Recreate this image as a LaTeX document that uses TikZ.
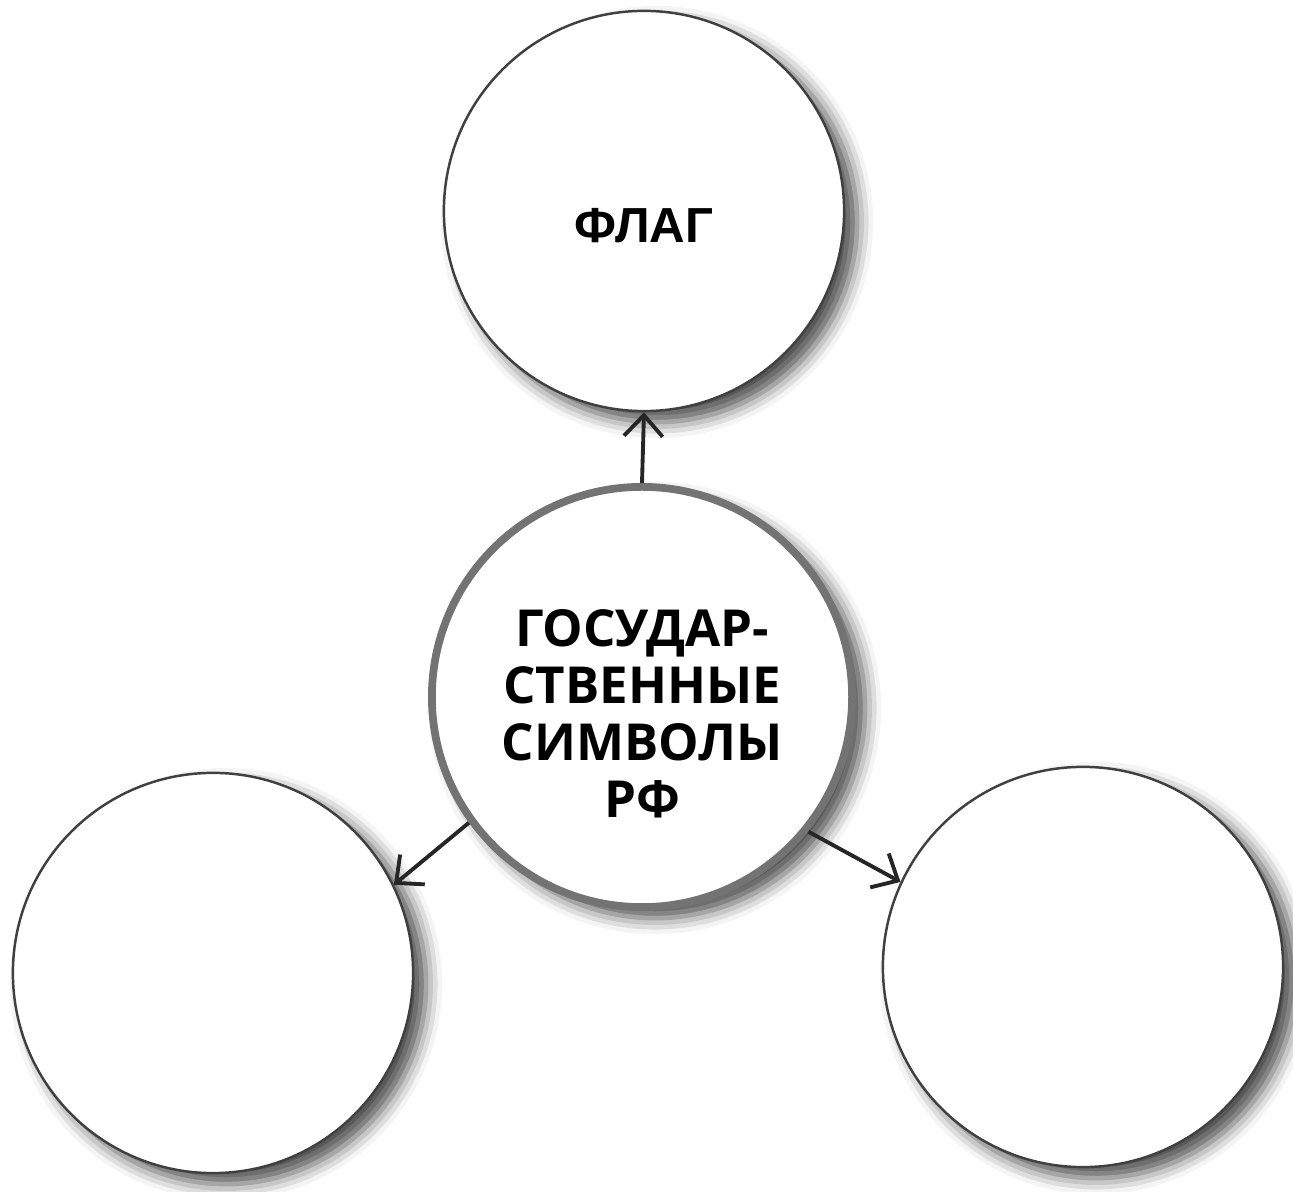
\documentclass[tikz,border=0pt]{standalone}
\usepackage{fontspec}
\setmainfont{Open Sans}
\newfontfamily\flagfont{Liberation Sans}
\usepackage{xcolor}
\usepackage{tikz}
\usetikzlibrary{arrows.meta, shadows.blur}

\begin{document}
\begin{tikzpicture}[x=0.01cm, y=-0.01cm, >={Straight Barb[length=6pt, width=11pt]},
    bubble/.style={circle, draw=black!75, line width=0.7pt, fill=white, minimum size=4cm, inner sep=0pt,
        blur shadow={shadow xshift=0.13cm, shadow yshift=-0.11cm, shadow blur radius=0.16cm, shadow opacity=70}},
    hub/.style={bubble, draw=black!55, line width=2.2pt, minimum size=4.2cm,
        font=\bfseries\fontsize{14.5}{16.2}\selectfont},
    link/.style={->, line width=1.1pt, black!85}]
    \useasboundingbox (0,0) rectangle (1293,1192);

    \node[hub] (symbols) at (642,697)
        {\raisebox{-0.36cm}[0pt][0pt]{\begin{tabular}{@{}c@{}}ГОСУДАР-\\СТВЕННЫЕ\\СИМВОЛЫ\\РФ\end{tabular}}};
    \node[bubble, font=\flagfont\bfseries\fontsize{14}{17}\selectfont] (flag) at (644,211)
        {\raisebox{-0.31cm}[0pt][0pt]{ФЛАГ}};
    \node[bubble] (left) at (213,973) {};
    \node[bubble] (right) at (1083,967) {};

    \draw[link] (symbols.north) -- (flag.south);
    \draw[link] (symbols.216) -- (left.26);
    \draw[link] (symbols.321) -- (right.155);
\end{tikzpicture}
\end{document}
